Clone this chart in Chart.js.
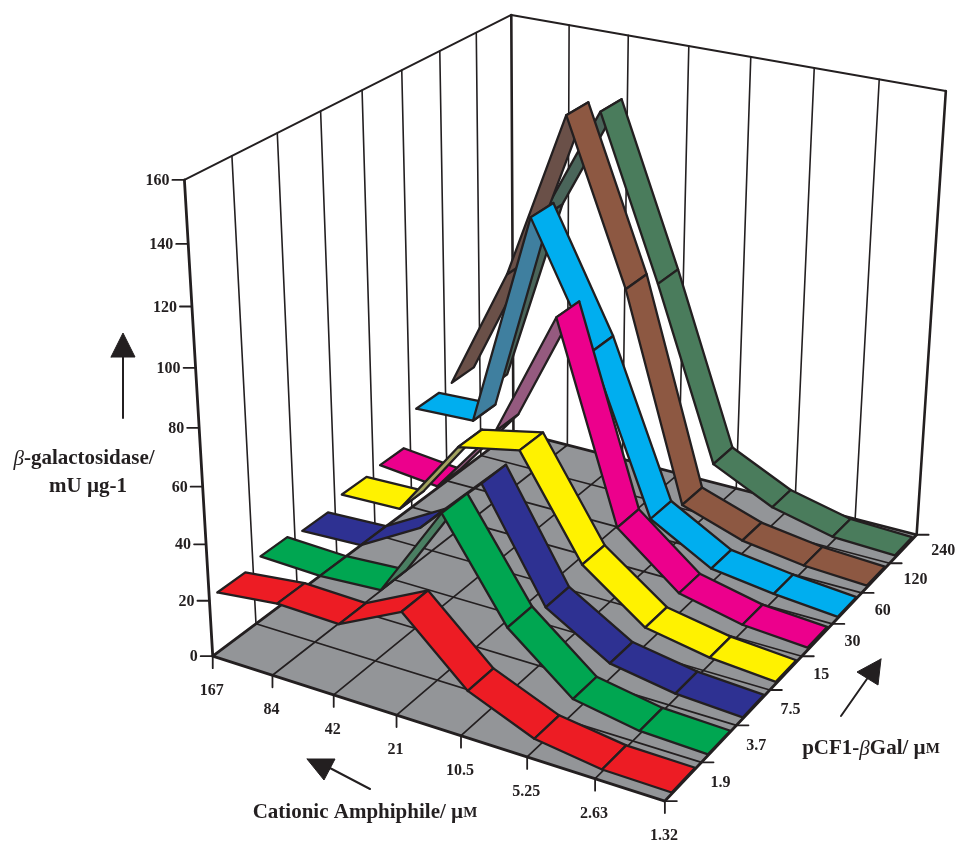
<!DOCTYPE html>
<html>
<head>
<meta charset="utf-8">
<title>β-galactosidase ribbons</title>
<script src="https://cdn.jsdelivr.net/npm/chart.js@4"></script>
<style>
    html, body { margin: 0; background: #fff; }
    canvas { display: block; }
</style>
</head>
<body>
<canvas id="chart" width="957" height="841"></canvas>
<script>
const amphiphile = ['167', '84', '42', '21', '10.5', '5.25', '2.63', '1.32'];
const plasmid = ['1.9', '3.7', '7.5', '15', '30', '60', '120', '240'];
const valueTicks = [0, 20, 40, 60, 80, 100, 120, 140, 160];

const s1_9 = [20.9, 23.5, 22.9, 33.9, 13.4, 4, 0.8, 0.5];
const s3_7 = [22.7, 22, 23.4, 56.6, 23.4, 5.2, 1.2, 0.4];
const s7_5 = [21.1, 22.1, 34.6, 56.3, 18.9, 5.6, 1.8, 0.5];
const s15 = [24, 24.7, 53.1, 57.7, 22.9, 6.6, 2.5, 0.7];
const s30 = [24.8, 22.6, 48.9, 94.8, 25.4, 7.6, 2.6, 1];
const s60 = [36.4, 37.4, 116.4, 73.6, 17.9, 5.5, 2.5, 0.5];
const s120 = [36.9, 83.1, 144.4, 87.4, 12.6, 5.1, 1.9, 0.7];
const s240 = [24.9, 95.9, 138.6, 80.8, 18, 7.2, 1.9, 1];
const series = [s1_9, s3_7, s7_5, s15, s30, s60, s120, s240];

const topColors = ['#ed1c24', '#00a651', '#2e3192', '#fff200', '#ec008c', '#00aeef', '#8d5842', '#4a7c5c'];
const underColors = ['#ed1c24', '#4a7f62', '#2e3192', '#a3a35f', '#955a7f', '#3f7f9f', '#6a5048', '#4a655a'];

const INK = '#231f20';
const FLOOR = '#939598';
const RIBBON_FRONT = 0.18;
const RIBBON_BACK = 0.82;

// box corners on screen, [u, v, value, px, py], the camera is fitted to these
const anchors = [
    [0, 0, 0, 215, 656], [7, 0, 0, 665, 801], [7, 8, 0, 917, 537], [0, 8, 0, 511, 431],
    [0, 0, 160, 182, 180], [0, 8, 160, 514, 15], [7, 8, 160, 945, 93],
    [0, 0, 80, 199, 428], [7, 8, 80, 931, 317]
];

function solve(A, b) {
    const n = b.length;
    const m = A.map((r, i) => [...r, b[i]]);
    for (let i = 0; i < n; i++) {
        let p = i;
        for (let r = i + 1; r < n; r++) if (Math.abs(m[r][i]) > Math.abs(m[p][i])) p = r;
        [m[i], m[p]] = [m[p], m[i]];
        for (let r = 0; r < n; r++) {
            if (r === i) continue;
            const f = m[r][i] / m[i][i];
            for (let c = i; c <= n; c++) m[r][c] -= f * m[i][c];
        }
    }
    return m.map((r, i) => r[n] / r[i]);
}

// least squares for the 11 terms of a projective camera
function fitCamera() {
    const rows = [], rhs = [];
    for (const [u, v, h, x, y] of anchors) {
        rows.push([u, v, h, 1, 0, 0, 0, 0, -x * u, -x * v, -x * h]); rhs.push(x);
        rows.push([0, 0, 0, 0, u, v, h, 1, -y * u, -y * v, -y * h]); rhs.push(y);
    }
    const idx = [...Array(11).keys()];
    const N = idx.map(i => idx.map(j => rows.reduce((s, r) => s + r[i] * r[j], 0)));
    const t = idx.map(i => rows.reduce((s, r, k) => s + r[i] * rhs[k], 0));
    return solve(N, t);
}

const P = fitCamera();

function project(u, v, h) {
    const w = P[8] * u + P[9] * v + P[10] * h + 1;
    return {
        x: (P[0] * u + P[1] * v + P[2] * h + P[3]) / w,
        y: (P[4] * u + P[5] * v + P[6] * h + P[7]) / w
    };
}

const datasets = [];

function addShape(points, fill, line, width) {
    const closed = fill ? [...points, points[0]] : points;
    datasets.push({
        data: closed,
        showLine: true,
        pointRadius: 0,
        tension: 0,
        fill: fill ? 'shape' : false,
        backgroundColor: fill || 'transparent',
        borderColor: line || 'transparent',
        borderWidth: line ? width : 0,
        borderJoinStyle: 'round',
        borderCapStyle: 'round',
        clip: false
    });
}

const line3 = (a, b, width) => addShape([project(...a), project(...b)], null, INK, width);

// walls
amphiphile.forEach((_, u) => line3([u, 8, 0], [u, 8, 160], u === 0 || u === 7 ? 2.6 : 1.6));
plasmid.forEach((_, i) => { if (i < 7) line3([0, i + 1, 0], [0, i + 1, 160], 1.6); });
line3([0, 0, 160], [0, 8, 160], 1.9);
line3([0, 8, 160], [7, 8, 160], 1.9);

// floor
addShape([project(0, 0, 0), project(7, 0, 0), project(7, 8, 0), project(0, 8, 0)], FLOOR, INK, 2.8);
for (let u = 1; u < 7; u++) line3([u, 0, 0], [u, 8, 0], 1.7);
for (let v = 1; v < 8; v++) line3([0, v, 0], [7, v, 0], 1.7);

// axes and ticks
line3([0, 0, 0], [0, 0, 160], 2.8);
valueTicks.forEach(t => {
    const p = project(0, 0, t);
    addShape([p, { x: p.x - 12, y: p.y }], null, INK, 1.8);
});
amphiphile.forEach((_, u) => {
    const p = project(u, 0, 0);
    addShape([p, { x: p.x, y: p.y + 12 }], null, INK, 1.8);
});
[0, ...plasmid].forEach((_, v) => {
    const p = project(7, v, 0);
    addShape([p, { x: p.x + 12, y: p.y }], null, INK, 1.8);
});

// ribbons, far one first, each from the far end to the near end
for (let s = series.length - 1; s >= 0; s--) {
    const values = series[s];
    for (let u = 0; u < values.length - 1; u++) {
        const a = project(u, s + RIBBON_FRONT, values[u]);
        const b = project(u + 1, s + RIBBON_FRONT, values[u + 1]);
        const c = project(u + 1, s + RIBBON_BACK, values[u + 1]);
        const d = project(u, s + RIBBON_BACK, values[u]);
        // winding flips on screen when the underside faces the camera
        const cross = (b.x - a.x) * (d.y - a.y) - (b.y - a.y) * (d.x - a.x);
        addShape([a, b, c, d], cross > 0 ? underColors[s] : topColors[s], INK, 2.3);
    }
}

// direction arrows next to the axis titles
addShape([{ x: 123, y: 418 }, { x: 123, y: 350 }], null, INK, 2);
addShape([{ x: 111, y: 357 }, { x: 135, y: 357 }, { x: 123, y: 333 }], INK, INK, 1);
addShape([{ x: 370, y: 789 }, { x: 328, y: 767 }], null, INK, 2);
addShape([{ x: 307, y: 759 }, { x: 335, y: 759 }, { x: 324, y: 780 }], INK, INK, 1);
addShape([{ x: 841, y: 716 }, { x: 869, y: 676 }], null, INK, 2);
addShape([{ x: 881, y: 659 }, { x: 857, y: 672 }, { x: 878, y: 685 }], INK, INK, 1);

datasets.forEach((d, i) => { d.order = datasets.length - i; });

const FONT = '"Liberation Serif"';
const BOLD = 'bold 21px ' + FONT;
const ITALIC = 'italic 21px ' + FONT;
const SMALL = 'bold 15px ' + FONT;

function drawRuns(ctx, runs, cx, cy) {
    let w = 0;
    runs.forEach(([t, f]) => { ctx.font = f; w += ctx.measureText(t).width; });
    let x = cx - w / 2;
    ctx.textAlign = 'left';
    runs.forEach(([t, f]) => {
        ctx.font = f;
        ctx.fillText(t, x, cy);
        x += ctx.measureText(t).width;
    });
}

const labelPlugin = {
    id: 'labels',
    afterDraw(chart) {
        const ctx = chart.ctx;
        ctx.save();
        ctx.fillStyle = INK;
        ctx.textBaseline = 'middle';
        ctx.font = 'bold 16px ' + FONT;
        ctx.textAlign = 'right';
        valueTicks.forEach(t => {
            const p = project(0, 0, t);
            ctx.fillText(String(t), p.x - 15, p.y + 1);
        });
        ctx.textAlign = 'center';
        amphiphile.forEach((t, u) => {
            const p = project(u, 0, 0);
            ctx.fillText(t, p.x - 1, p.y + 35);
        });
        ctx.textAlign = 'left';
        plasmid.forEach((t, i) => {
            const p = project(7, i + 1, 0);
            ctx.fillText(t, p.x + 9 + i * 0.8, p.y + 21 - i * 0.7);
        });
        drawRuns(ctx, [['β', ITALIC], ['-galactosidase/', BOLD]], 84, 459);
        drawRuns(ctx, [['mU µg-1', BOLD]], 88, 487);
        drawRuns(ctx, [['Cationic Amphiphile/ µ', BOLD], ['M', SMALL]], 365, 813);
        drawRuns(ctx, [['pCF1-', BOLD], ['β', ITALIC], ['Gal/ µ', BOLD], ['M', SMALL]], 871, 749);
        ctx.restore();
    }
};

new Chart(document.getElementById('chart').getContext('2d'), {
    type: 'scatter',
    data: { datasets },
    options: {
        responsive: false,
        animation: false,
        layout: { padding: 0 },
        plugins: { legend: { display: false }, tooltip: { enabled: false } },
        events: [],
        scales: {
            x: { type: 'linear', display: false, min: 0, max: 957 },
            y: { type: 'linear', display: false, min: 0, max: 841, reverse: true }
        }
    },
    plugins: [labelPlugin]
});
</script>
</body>
</html>
